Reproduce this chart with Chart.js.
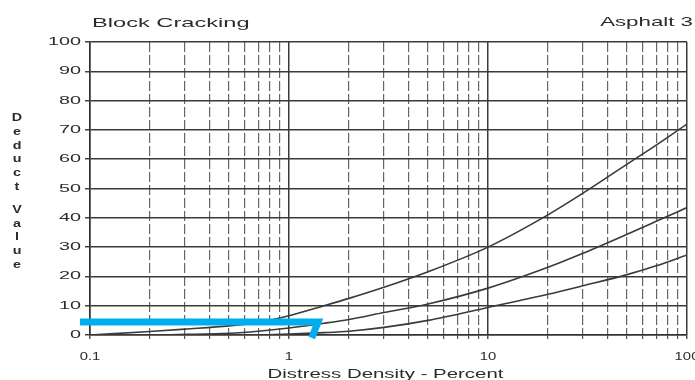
<!DOCTYPE html>
<html>
<head>
<meta charset="utf-8">
<script src="https://cdn.jsdelivr.net/npm/chart.js@4/dist/chart.umd.min.js"></script>
<style>
  html, body { margin: 0; padding: 0; background: #fff; }
  #wrap { width: 695px; height: 380px; position: relative; }
</style>
</head>
<body>
<div id="wrap"><canvas id="chart"></canvas></div>
<script>
// Deduct value curves for block cracking, by severity (high / medium / low)
const densities    = [0.1, 0.2, 0.3, 0.5, 0.7, 1, 1.5, 2, 3, 5, 10, 20, 30, 50, 70, 100];
const highValues   = [0, 1.2, 2.0, 3.1, 4.3, 6.6, 10, 12.5, 16.3, 21.6, 30, 41, 48.4, 58.3, 64.8, 72];
const mediumValues = [0, 0, 0.2, 0.6, 1.3, 2.4, 4, 5.3, 7.7, 10.6, 16, 23.1, 27.9, 34.4, 38.8, 43.5];
const lowValues    = [0, 0, 0, 0, 0, 0.3, 0.8, 1.3, 2.6, 5.0, 9.4, 13.9, 16.8, 20.6, 23.6, 27.3];

// Reading marker: density read-off at a deduct value of about 4.4
const markerDensity = [0.089, 1.4, 1.3];
const markerValue   = [4.4, 4.4, -1];

// Axis labels
const xTickValues = [0.1, 1, 10, 100];
const xTickLabels = ['0.1', '1', '10', '100'];
const yTickValues = [0, 10, 20, 30, 40, 50, 60, 70, 80, 90, 100];
const yTickLabels = ['0', '10', '20', '30', '40', '50', '60', '70', '80', '90', '100'];

const chartTitle = 'Block Cracking';
const chartSubtitle = 'Asphalt 3';
const xTitle = 'Distress Density - Percent';
const yTitleWords = ['Deduct', 'Value'];

const toPoints = (xs, ys) => xs.map((x, i) => ({ x: x, y: ys[i] }));
const isDecade = v => Math.abs(Math.log10(v) - Math.round(Math.log10(v))) < 1e-9;

const INK = '#2b2b2b';
const FONT = '"Liberation Sans", Arial, sans-serif';

// Text drawn with a horizontal stretch, like the wide lettering of the chart sheet
function stretchText(ctx, text, x, y, size, sx, align, weight) {
  ctx.save();
  ctx.font = (weight || 'normal') + ' ' + size + 'px ' + FONT;
  ctx.fillStyle = INK;
  ctx.textBaseline = 'middle';
  ctx.textAlign = 'left';
  const w = ctx.measureText(text).width * sx;
  const left = align === 'center' ? x - w / 2 : (align === 'right' ? x - w : x);
  ctx.translate(left, y);
  ctx.scale(sx, 1);
  ctx.fillText(text, 0, 0);
  ctx.restore();
}

const labelPlugin = {
  id: 'sheetLabels',
  afterDraw(chart) {
    const ctx = chart.ctx;
    const xs = chart.scales.x, ys = chart.scales.y;
    const area = chart.chartArea;

    stretchText(ctx, chartTitle, area.left + 2, 23, 13.5, 1.75, 'left');
    stretchText(ctx, chartSubtitle, 693, 22, 13.5, 1.65, 'right');

    yTickValues.forEach((v, i) => {
      stretchText(ctx, yTickLabels[i], area.left - 9, ys.getPixelForValue(v), 11, 1.8, 'right');
    });
    xTickValues.forEach((v, i) => {
      stretchText(ctx, xTickLabels[i], xs.getPixelForValue(v), area.bottom + 22, 11, 1.35, 'center');
    });

    stretchText(ctx, xTitle, (area.left + area.right) / 2 - 3, 375, 12, 1.7, 'center');

    // vertical axis title, one upright letter per line
    let y = 118;
    yTitleWords.forEach(word => {
      for (const ch of word) {
        stretchText(ctx, ch, 17, y, 11, 1.3, 'center', 'bold');
        y += 13.8;
      }
      y += 9;
    });
  }
};

const curveStyle = {
  borderColor: '#3a3a3a',
  borderWidth: 1.6,
  pointRadius: 0,
  fill: false,
  cubicInterpolationMode: 'monotone',
  order: 2
};

new Chart(document.getElementById('chart'), {
  type: 'line',
  data: {
    datasets: [
      {
        label: 'Reading',
        data: toPoints(markerDensity, markerValue),
        borderColor: '#00aeef',
        borderWidth: 7,
        borderCapStyle: 'butt',
        borderJoinStyle: 'miter',
        pointRadius: 0,
        tension: 0,
        clip: false,
        order: 0
      },
      Object.assign({ label: 'H', data: toPoints(densities, highValues) }, curveStyle),
      Object.assign({ label: 'M', data: toPoints(densities, mediumValues) }, curveStyle),
      Object.assign({ label: 'L', data: toPoints(densities, lowValues) }, curveStyle)
    ]
  },
  options: {
    responsive: true,
    maintainAspectRatio: false,
    animation: false,
    layout: { padding: { left: 0, right: 8, top: 42, bottom: 0 } },
    plugins: {
      legend: { display: false },
      tooltip: { enabled: false },
      title: { display: false }
    },
    scales: {
      x: {
        type: 'logarithmic',
        min: 0.1,
        max: 100,
        afterBuildTicks(scale) {
          const t = [];
          for (let e = -1; e <= 1; e++) {
            for (let m = 1; m <= 9; m++) t.push({ value: +(m * Math.pow(10, e)).toPrecision(3) });
          }
          t.push({ value: 100 });
          scale.ticks = t;
        },
        afterFit(scale) { scale.height = 45; },
        ticks: { display: false, autoSkip: false },
        grid: {
          color: c => (c.tick && isDecade(c.tick.value)) ? '#3a3a3a' : '#666',
          lineWidth: c => (c.tick && isDecade(c.tick.value)) ? 1.5 : 1.2,
          drawTicks: true,
          tickLength: 4,
          tickColor: '#555'
        },
        border: {
          display: true,
          color: '#333',
          width: 1.5,
          dash: c => (c.tick && !isDecade(c.tick.value)) ? [10, 3] : []
        }
      },
      y: {
        type: 'linear',
        min: 0,
        max: 100,
        afterBuildTicks(scale) {
          scale.ticks = yTickValues.map(v => ({ value: v }));
        },
        afterFit(scale) { scale.width = 90; },
        ticks: { display: false },
        grid: {
          color: '#3a3a3a',
          lineWidth: 1.5,
          drawTicks: true,
          tickLength: 5,
          tickColor: '#444'
        },
        border: { display: true, color: '#333', width: 1.5 }
      }
    }
  },
  plugins: [labelPlugin]
});
</script>
</body>
</html>
